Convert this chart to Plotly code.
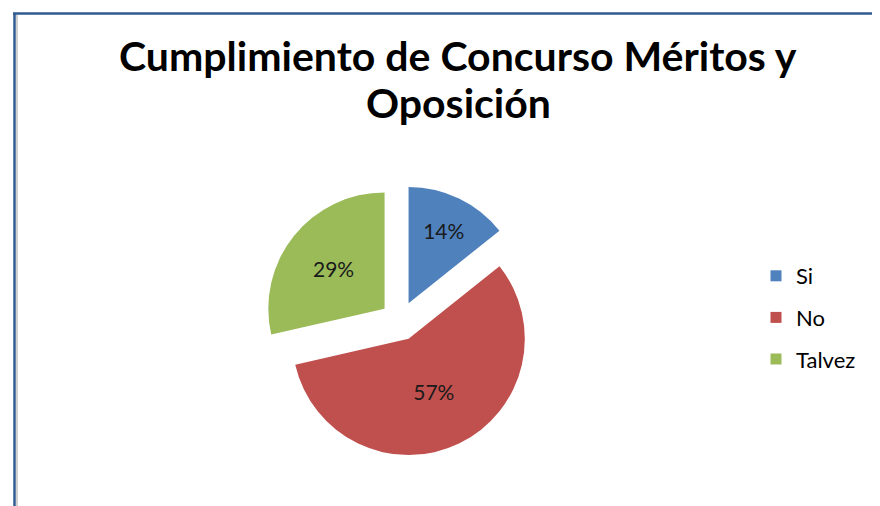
import plotly.graph_objects as go

categories = ["Si", "No", "Talvez"]
values = [1, 4, 2]
colors = ["#4F81BD", "#C0504D", "#9BBB59"]
title_lines = ["Cumplimiento de Concurso Méritos y", "Oposición"]

W, H = 880, 506

fig = go.Figure()
fig.add_trace(go.Pie(
    labels=categories, values=values, sort=False, direction="clockwise",
    rotation=0, pull=[0.17, 0.17, 0.17],
    marker=dict(colors=colors, line=dict(width=0)),
    texttemplate="%{percent:.0%}", textposition="inside", insidetextorientation="horizontal",
    textfont=dict(family="Lato", size=21, color="#1a1a1a"),
    showlegend=False,
    domain=dict(x=[(392 - 136) / W, (392 + 136) / W], y=[(193 - 136) / H, (193 + 136) / H]),
    hoverinfo="label+percent",
))
for i, c in enumerate(categories):
    fig.add_trace(go.Scatter(
        x=[None], y=[None], mode="markers", name=c, legendgroup=c,
        marker=dict(symbol="square", size=11, color=colors[i]),
    ))

annotations = [
    dict(text=title_lines[0], x=450 / W, y=1 - 47 / H, xref="paper", yref="paper",
         xanchor="center", yanchor="middle", showarrow=False,
         font=dict(family="Lato", size=41, color="#000000", weight="bold")),
    dict(text=title_lines[1], x=450 / W, y=1 - 94 / H, xref="paper", yref="paper",
         xanchor="center", yanchor="middle", showarrow=False,
         font=dict(family="Lato", size=41, color="#000000", weight="bold")),
]

fig.update_layout(
    width=W, height=H,
    margin=dict(l=0, r=0, t=0, b=0),
    paper_bgcolor="white", plot_bgcolor="white",
    xaxis=dict(visible=False), yaxis=dict(visible=False),
    annotations=annotations,
    legend=dict(x=748 / W, y=1 - 247 / H, xanchor="left", yanchor="top",
                font=dict(family="Lato", size=22, color="#000000"),
                tracegroupgap=10, itemwidth=30, bgcolor="rgba(0,0,0,0)"),
    shapes=[
        dict(type="line", xref="paper", yref="paper", x0=5 / W, x1=1.01, y0=1 - 5.5 / H, y1=1 - 5.5 / H,
             line=dict(color="#2F5A92", width=2.5)),
        dict(type="line", xref="paper", yref="paper", x0=6.5 / W, x1=6.5 / W, y0=1 - 5 / H, y1=-0.01,
             line=dict(color="#2F5A92", width=2.5)),
        dict(type="line", xref="paper", yref="paper", x0=9 / W, x1=9 / W, y0=1 - 7 / H, y1=-0.01,
             line=dict(color="#A0A0A0", width=1)),
    ],
)

fig.write_html("out.html")
